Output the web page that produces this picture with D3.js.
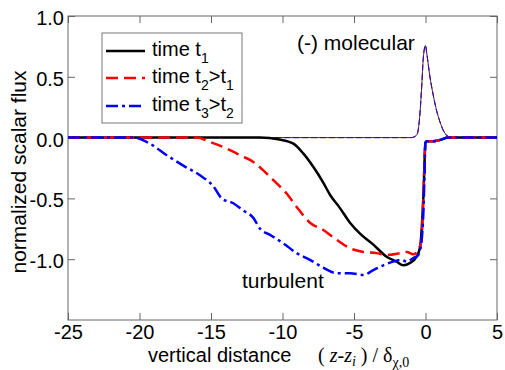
<!DOCTYPE html>
<html>
<head>
<meta charset="utf-8">
<script src="https://cdn.jsdelivr.net/npm/d3@7"></script>
<style>
  body { margin: 0; background: #fff; }
  text { font-family: "Liberation Sans", Arial, sans-serif; }
</style>
</head>
<body>
<div id="chart"></div>
<script>

const canvas = { w: 505, h: 370 };
const margin = { top: 16, right: 8, bottom: 50, left: 68 };

// turbulent flux, time t1
const xT1 = [-25, -11.6, -10.2, -9.24, -8.55, -7.85, -7.15, -6.68, -5.98, -5.28, -4.58, -3.65, -2.72, -2.02, -1.55, -1.08, -0.62, -0.38, -0.15, 0.0, 0.1, 0.5, 1.0, 1.6, 5];
const yT1 = [0, 0, -0.016, -0.05, -0.13, -0.24, -0.37, -0.47, -0.58, -0.70, -0.79, -0.88, -0.98, -1.02, -1.05, -1.03, -0.98, -0.90, -0.49, -0.04, -0.03, -0.03, -0.02, 0, 0];

// time t2 > t1
const xT2 = [-25, -16.0, -15.07, -13.9, -12.97, -12.04, -11.34, -10.64, -9.71, -9.01, -8.08, -7.15, -6.21, -5.28, -4.35, -3.42, -2.72, -1.78, -1.32, -0.85, -0.5, -0.27, -0.15, 0.0, 0.1, 0.5, 1.0, 1.6, 5];
const yT2 = [0, 0, -0.036, -0.09, -0.145, -0.2, -0.27, -0.35, -0.46, -0.57, -0.70, -0.76, -0.84, -0.91, -0.94, -0.95, -0.965, -0.95, -0.94, -0.96, -0.92, -0.84, -0.49, -0.04, -0.03, -0.03, -0.02, 0, 0];

// time t3 > t2
const xT3 = [-25, -20.4, -19.27, -18.1, -16.94, -15.77, -14.84, -14.25, -13.44, -12.74, -12.04, -11.57, -10.87, -9.94, -9.01, -8.08, -7.15, -6.21, -5.28, -4.35, -3.65, -2.95, -2.25, -1.67, -1.32, -0.85, -0.5, -0.27, -0.15, -0.08, 0.0, 0.1, 0.5, 1.0, 1.6, 5];
const yT3 = [0, 0, -0.05, -0.145, -0.23, -0.31, -0.40, -0.50, -0.54, -0.60, -0.66, -0.75, -0.80, -0.87, -0.95, -1.005, -1.07, -1.115, -1.115, -1.13, -1.09, -1.05, -1.02, -1.005, -1.02, -0.99, -0.965, -0.84, -0.62, -0.35, -0.04, -0.03, -0.03, -0.02, 0, 0];

// molecular flux (sign reversed), same for all times
const xMol = [-25, -1.0, -0.62, -0.43, -0.27, -0.15, 0.0, 0.08, 0.31, 0.54, 0.78, 1.01, 1.24, 1.48, 1.71, 5];
const yMol = [0, 0, 0.02, 0.14, 0.41, 0.66, 0.757, 0.70, 0.50, 0.35, 0.22, 0.13, 0.06, 0.02, 0, 0];

const xTicks = [-25, -20, -15, -10, -5, 0, 5];
const yTicks = [1.0, 0.5, 0.0, -0.5, -1.0];

const series = [
    { name: "t1", xs: xT1, ys: yT1, color: "#000000", dash: null },
    { name: "t2", xs: xT2, ys: yT2, color: "#ff0000", dash: "12,6" },
    { name: "t3", xs: xT3, ys: yT3, color: "#0000ff", dash: "12,4,3,4" }
];

const svg = d3.select("#chart")
    .append("svg")
    .attr("width", canvas.w)
    .attr("height", canvas.h);

const x = d3.scaleLinear()
    .domain([-25, 5])
    .range([margin.left, canvas.w - margin.right]);

const y = d3.scaleLinear()
    .domain([-1.5, 1.0])
    .range([canvas.h - margin.bottom, margin.top]);

const frameColor = "#666";
// plain hyphen for minus, like the original plot
const hyphen = f => d => f(d).replace("\u2212", "-");

// axes, ticks pointing inside
const bottom = svg.append("g")
    .attr("transform", `translate(0,${y(-1.5)})`)
    .call(d3.axisBottom(x).tickValues(xTicks).tickSize(-7).tickPadding(5).tickFormat(hyphen(d3.format("d"))));

const left = svg.append("g")
    .attr("transform", `translate(${x(-25)},0)`)
    .call(d3.axisLeft(y).tickValues(yTicks).tickSize(-7).tickPadding(4).tickFormat(hyphen(d3.format(".1f"))));

svg.append("g")
    .attr("transform", `translate(0,${y(1.0)})`)
    .call(d3.axisTop(x).tickValues(xTicks).tickSize(-7).tickFormat(""));

svg.append("g")
    .attr("transform", `translate(${x(5)},0)`)
    .call(d3.axisRight(y).tickValues(yTicks).tickSize(-7).tickFormat(""));

svg.selectAll(".domain").remove();
svg.selectAll(".tick line").attr("stroke", frameColor);
svg.selectAll(".tick text")
    .attr("fill", "#000")
    .style("font-size", "20px")
    .style("font-family", "'Liberation Sans', Arial, sans-serif");
left.selectAll(".tick text").attr("dy", "0.42em");

svg.append("rect")
    .attr("x", x(-25))
    .attr("y", y(1.0))
    .attr("width", x(5) - x(-25))
    .attr("height", y(-1.5) - y(1.0))
    .attr("fill", "none")
    .attr("stroke", frameColor)
    .attr("stroke-width", 1);

const line = d3.line()
    .x(d => x(d[0]))
    .y(d => y(d[1]))
    .curve(d3.curveMonotoneX);

// thin molecular curves
series.forEach(s => {
    svg.append("path")
        .attr("d", line(d3.zip(xMol, yMol)))
        .attr("fill", "none")
        .attr("stroke", s.color)
        .attr("stroke-width", 1)
        .attr("stroke-dasharray", s.dash ? "6,3" : null)
        .attr("opacity", 0.8);
});

// thick turbulent curves
series.forEach(s => {
    svg.append("path")
        .attr("d", line(d3.zip(s.xs, s.ys)))
        .attr("fill", "none")
        .attr("stroke", s.color)
        .attr("stroke-width", 2.5)
        .attr("stroke-dasharray", s.dash);
});

// annotations
svg.append("text")
    .attr("x", 297).attr("y", 50)
    .style("font-size", "21px")
    .text("(-) molecular");

svg.append("text")
    .attr("x", 242).attr("y", 288)
    .style("font-size", "21px")
    .text("turbulent");

// legend
const legend = svg.append("g");
legend.append("rect")
    .attr("x", 102).attr("y", 33)
    .attr("width", 140).attr("height", 90)
    .attr("fill", "#fff")
    .attr("stroke", "#777");

const legendRows = [
    { s: series[0], y: 51, parts: [["time t", 0], ["1", 1]] },
    { s: series[1], y: 78, parts: [["time t", 0], ["2", 1], [">t", 0], ["1", 1]] },
    { s: series[2], y: 106, parts: [["time t", 0], ["3", 1], [">t", 0], ["2", 1]] }
];

legendRows.forEach(r => {
    legend.append("line")
        .attr("x1", 106).attr("x2", 145)
        .attr("y1", r.y).attr("y2", r.y)
        .attr("stroke", r.s.color)
        .attr("stroke-width", 2.5)
        .attr("stroke-dasharray", r.s.dash);
    const t = legend.append("text")
        .attr("x", 152).attr("y", r.y + 5)
        .style("font-size", "20px");
    let prevSub = 0;
    r.parts.forEach(([txt, sub]) => {
        t.append("tspan")
            .attr("dy", sub ? 7 : (prevSub ? -7 : 0))
            .style("font-size", sub ? "14px" : "20px")
            .text(txt);
        prevSub = sub;
    });
});

// axis titles
svg.append("text")
    .attr("transform", `translate(26,${(y(1.0) + y(-1.5)) / 2 + 4}) rotate(-90)`)
    .attr("text-anchor", "middle")
    .style("font-size", "21px")
    .text("normalized scalar flux");

svg.append("text")
    .attr("x", 148).attr("y", 362)
    .style("font-size", "20px")
    .text("vertical distance");

const math = svg.append("text")
    .attr("x", 318).attr("y", 362)
    .style("font-family", "'Liberation Serif', 'Times New Roman', serif")
    .style("font-size", "20px");
math.append("tspan").text("( ");
math.append("tspan").style("font-style", "italic").text("z");
math.append("tspan").text("-");
math.append("tspan").style("font-style", "italic").text("z");
math.append("tspan").attr("dy", 4).style("font-size", "14px").style("font-style", "italic").text("i");
math.append("tspan").attr("dy", -4).text(" ) / δ");
math.append("tspan").attr("dy", 5).style("font-size", "14px").text("χ,0");

</script>
</body>
</html>
